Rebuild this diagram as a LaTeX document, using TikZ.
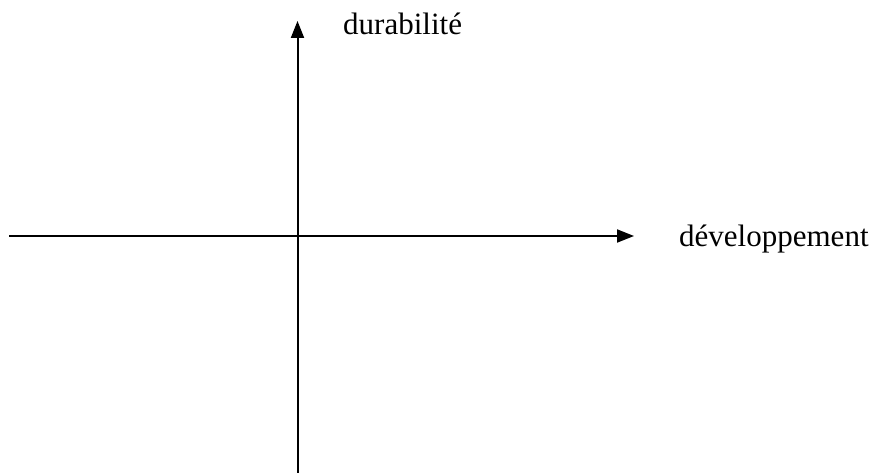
\documentclass[tikz,border=0pt]{standalone}
\usepackage{fontspec}
\setmainfont{Liberation Serif}
\usepackage{tikz}
\usetikzlibrary{arrows.meta,positioning}
\tikzset{
    axisline/.style={line width=2pt, -{Triangle[length=17pt,width=13pt]}},
    axislabel/.style={anchor=base west, inner sep=0pt, font=\fontsize{31}{36}\selectfont}
}

\begin{document}
\begin{tikzpicture}[x=1pt,y=1pt,>=Latex]
    \useasboundingbox (0,0) rectangle (877,473);
    \coordinate (devstart) at (9,237);
    \coordinate (devend) at (634,237);
    \coordinate (durstart) at (297.5,0);
    \coordinate (durend) at (297.5,452);

    \draw[axisline] (devstart) -- (devend);
    \draw[axisline] (durstart) -- (durend);

    \node[axislabel] (durlabel) at (343,438) {durabilité};
    \node[axislabel] (devlabel) at (679,226) {développement};
\end{tikzpicture}
\end{document}
